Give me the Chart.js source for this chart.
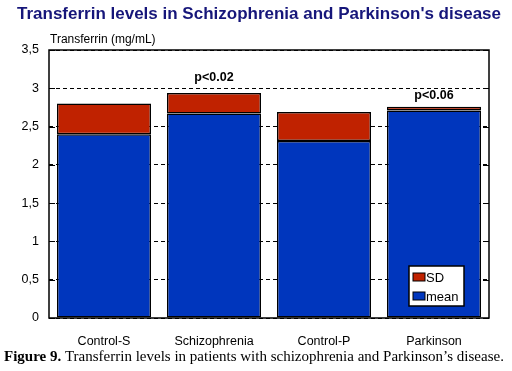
<!DOCTYPE html>
<html>
<head>
<meta charset="utf-8">
<script src="https://cdn.jsdelivr.net/npm/chart.js@4/dist/chart.umd.min.js"></script>
<style>
  html, body { margin: 0; padding: 0; background: #fff; }
  #wrap { width: 512px; height: 371px; position: relative; }
</style>
</head>
<body>
<div id="wrap"><canvas id="grafico"></canvas></div>
<script>
// datos
const categorias = ['Control-S', 'Schizophrenia', 'Control-P', 'Parkinson'];
const media = [2.40, 2.67, 2.31, 2.71];
const sd = [0.40, 0.27, 0.38, 0.05];
const pTextos = ['', 'p<0.02', '', 'p<0.06'];
const pAltura = [null, 3.14, null, 2.90];
const yTicks = [0, 0.5, 1, 1.5, 2, 2.5, 3, 3.5];

const azul = '#0036bd';
const rojo = '#c02200';

// textos, marco, ticks interiores y leyenda
const extras = {
  id: 'extras',
  afterDraw(chart) {
    const ctx = chart.ctx;
    const a = chart.chartArea;
    const y = chart.scales.y;
    const x = chart.scales.x;
    ctx.save();

    // titulo
    ctx.fillStyle = '#16167a';
    ctx.font = 'bold 17px "Liberation Sans", Arial, sans-serif';
    ctx.textAlign = 'center';
    ctx.textBaseline = 'middle';
    ctx.fillText("Transferrin levels in Schizophrenia and Parkinson's disease", 259, 14);

    // titulo eje
    ctx.fillStyle = '#000';
    ctx.font = '12px "Liberation Sans", Arial, sans-serif';
    ctx.textAlign = 'left';
    ctx.fillText('Transferrin (mg/mL)', a.left + 1, 40);

    // marco
    ctx.strokeStyle = '#000';
    ctx.lineWidth = 1.5;
    ctx.strokeRect(a.left, a.top, a.right - a.left, a.bottom - a.top);

    // ticks interiores
    ctx.lineWidth = 1;
    yTicks.forEach(v => {
      const py = Math.round(y.getPixelForValue(v)) + 0.5;
      ctx.beginPath();
      ctx.moveTo(a.left, py); ctx.lineTo(a.left + 6, py);
      ctx.moveTo(a.right, py); ctx.lineTo(a.right - 6, py);
      ctx.stroke();
    });

    // valores p
    ctx.font = 'bold 12.5px "Liberation Sans", Arial, sans-serif';
    ctx.textAlign = 'center';
    pTextos.forEach((t, i) => {
      if (!t) return;
      ctx.fillText(t, x.getPixelForValue(i), y.getPixelForValue(pAltura[i]));
    });

    // leyenda
    const lx = 409, ly = 266, lw = 55, lh = 40;
    ctx.fillStyle = '#fff';
    ctx.fillRect(lx, ly, lw, lh);
    ctx.lineWidth = 1.5;
    ctx.strokeRect(lx, ly, lw, lh);
    const items = chart.data.datasets.slice().reverse();
    ctx.font = '13px "Liberation Sans", Arial, sans-serif';
    ctx.textAlign = 'left';
    items.forEach((ds, i) => {
      const iy = ly + 11 + i * 19;
      ctx.fillStyle = ds.backgroundColor;
      ctx.fillRect(lx + 4, iy - 4, 12, 8);
      ctx.lineWidth = 1;
      ctx.strokeRect(lx + 4, iy - 4, 12, 8);
      ctx.fillStyle = '#000';
      ctx.fillText(ds.label, lx + 17, iy + 1);
    });

    // pie de figura
    ctx.textAlign = 'left';
    ctx.font = 'bold 15px "Liberation Serif", "Times New Roman", serif';
    const fig = 'Figure 9.';
    ctx.fillText(fig, 4, 357);
    const w = ctx.measureText(fig).width;
    ctx.font = '15px "Liberation Serif", "Times New Roman", serif';
    ctx.fillText(' Transferrin levels in patients with schizophrenia and Parkinson\u2019s disease.', 4 + w, 357);

    ctx.restore();
  }
};

const ctx = document.getElementById('grafico').getContext('2d');
new Chart(ctx, {
  type: 'bar',
  data: {
    labels: categorias,
    datasets: [
      { label: 'mean', data: media, backgroundColor: azul, borderColor: '#000', borderWidth: 1.5, borderSkipped: false },
      { label: 'SD', data: sd, backgroundColor: rojo, borderColor: '#000', borderWidth: 1.5, borderSkipped: false }
    ]
  },
  options: {
    responsive: true,
    maintainAspectRatio: false,
    animation: false,
    categoryPercentage: 1,
    barPercentage: 0.855,
    layout: { padding: { top: 50, right: 23, left: 0, bottom: 0 } },
    scales: {
      x: {
        stacked: true,
        grid: { display: false },
        border: { display: false },
        ticks: { color: '#000', font: { size: 12.5, family: '"Liberation Sans", Arial' }, padding: 8 },
        afterFit: s => { s.height = 53; }
      },
      y: {
        stacked: true,
        min: 0,
        max: 3.5,
        afterBuildTicks: s => { s.ticks = yTicks.map(v => ({ value: v })); },
        grid: { color: '#000', drawTicks: false },
        border: { display: false, dash: [4, 3] },
        ticks: {
          color: '#000',
          padding: 10,
          font: { size: 12.5, family: '"Liberation Sans", Arial' },
          callback: v => String(v).replace('.', ',')
        },
        afterFit: s => { s.width = 49; }
      }
    },
    plugins: {
      legend: { display: false },
      tooltip: { enabled: false }
    }
  },
  plugins: [extras]
});
</script>
</body>
</html>
